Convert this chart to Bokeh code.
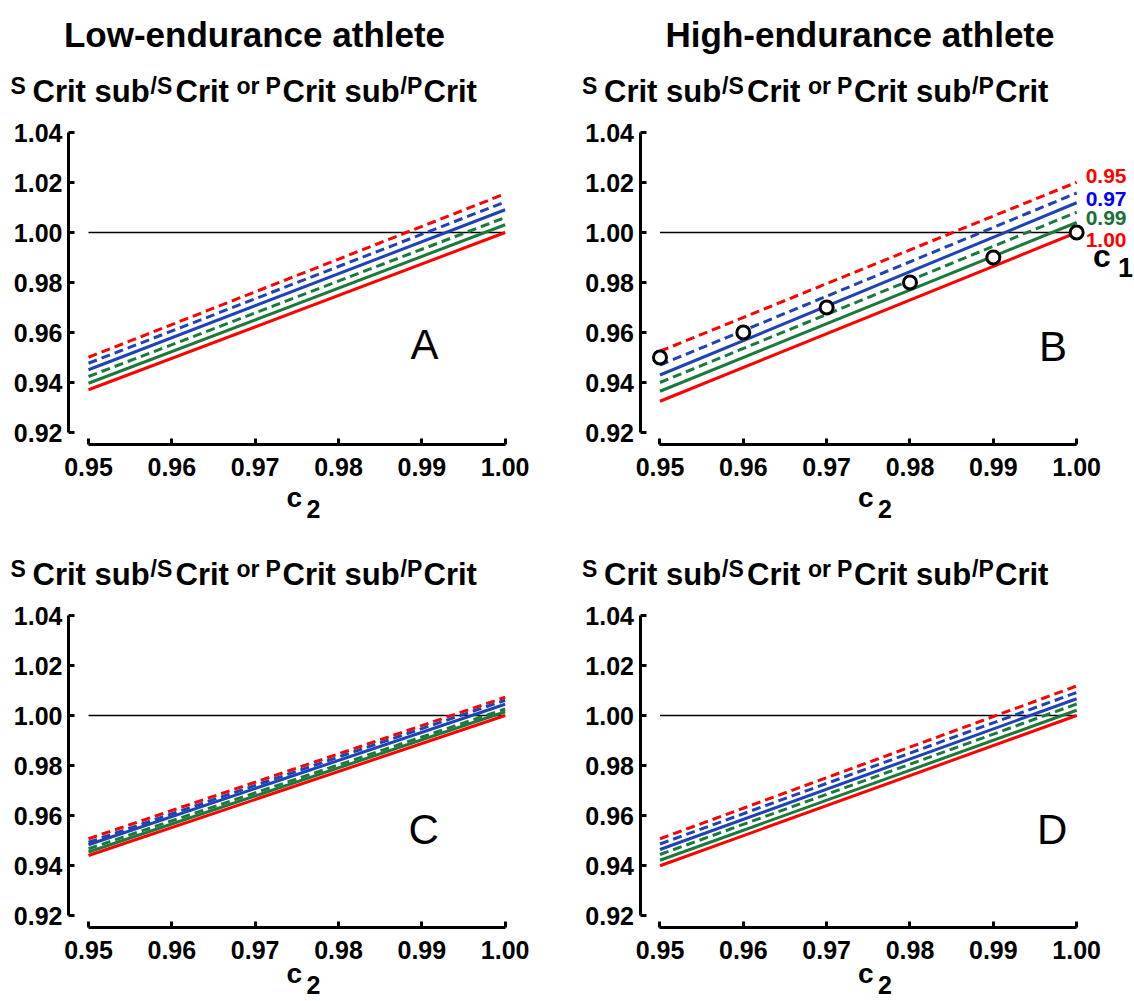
from bokeh.plotting import figure
from bokeh.layouts import gridplot
from bokeh.models import Label, Range1d, FixedTicker, PrintfTickFormatter
from bokeh.embed import file_html
from bokeh.resources import INLINE

# ---------------- data ----------------
c2_span = [0.95, 1.00]                      # c2 at the two ends of every line
c1_levels = [0.95, 0.96, 0.97, 0.98, 0.99, 1.00]
c1_labels = ["0.95", "0.97", "0.99", "1.00"]
x_ticks = [0.95, 0.96, 0.97, 0.98, 0.99, 1.00]
y_ticks = [0.92, 0.94, 0.96, 0.98, 1.00, 1.02, 1.04]
reference_level = [1.00, 1.00]

# ratio at c2 = 0.95 and at c2 = 1.00, one value per c1 level
A_at_095 = [0.9501, 0.9477, 0.9451, 0.9424, 0.9397, 0.9371]
A_at_100 = [1.0155, 1.0122, 1.0091, 1.0060, 1.0031, 1.0000]
B_at_095 = [0.9525, 0.9470, 0.9430, 0.9400, 0.9365, 0.9325]
B_at_100 = [1.0201, 1.0158, 1.0119, 1.0081, 1.0040, 1.0000]
C_at_095 = [0.9507, 0.9493, 0.9483, 0.9467, 0.9454, 0.9440]
C_at_100 = [1.0073, 1.0061, 1.0045, 1.0026, 1.0015, 1.0000]
D_at_095 = [0.9507, 0.9486, 0.9464, 0.9444, 0.9421, 0.9399]
D_at_100 = [1.0118, 1.0092, 1.0067, 1.0046, 1.0021, 1.0000]

B_points_c2 = [0.95, 0.96, 0.97, 0.98, 0.99, 1.00]
B_points_ratio = [0.95, 0.96, 0.97, 0.98, 0.99, 1.00]

# ---------------- styles ----------------
RED = "#ff0000"
BLUE = "#1f43b5"
GREEN = "#1b7a3b"
line_colors = [RED, BLUE, BLUE, GREEN, GREEN, RED]
line_dashes = ["9 5", "9 5", "solid", "9 5", "solid", "solid"]
label_colors = ["#ff0000", "#0000ff", "#1a7035", "#ff0000"]
FONT = "Liberation Sans"

XS = 8333.33   # px per unit of c2
YS = 2500.0    # px per unit of ratio
XA = 0.9476    # c2 value where the y axis stands
YA = 0.9152    # ratio value where the x axis stands
BASE = 0.38    # baseline correction (fraction of font size)


def dx(px):
    return XA + px / XS


def dy(py):
    return YA + py / YS


def lab(p, px, py, text, size, bold=True, color="black", align="left"):
    p.add_layout(Label(x=dx(px), y=dy(py + BASE * size), text=text, text_font=FONT,
                       text_font_style="bold" if bold else "normal",
                       text_font_size=f"{size}px", text_color=color,
                       text_align=align, text_baseline="alphabetic"))


# y title pieces: (text, raised?, left position relative to the y axis, px)
Y_TITLE = [("S", True, -58), ("Crit sub", False, -36), ("/S", True, 82),
           ("Crit", False, 107), ("or", True, 168), ("P", True, 197),
           ("Crit sub", False, 214), ("/P", True, 332), ("Crit", False, 355)]


def make_panel(width, height, ax_x, ax_y, v095, v100, letter, lpx, lpy,
               title=None, title_px=0, points=False, c2_drop=64):
    p = figure(width=width, height=height,
               x_range=Range1d(XA - ax_x / XS, XA + (width - ax_x) / XS),
               y_range=Range1d(YA - (height - ax_y) / YS, YA + ax_y / YS),
               output_backend="svg", toolbar_location=None,
               min_border_left=0, min_border_right=0,
               min_border_top=0, min_border_bottom=0)
    p.xgrid.visible = False
    p.ygrid.visible = False
    p.outline_line_color = None
    p.background_fill_color = "white"
    p.border_fill_color = "white"

    for ax, ticks, b in ((p.xaxis[0], x_ticks, (0.95, 1.00)),
                         (p.yaxis[0], y_ticks, (0.92, 1.04))):
        ax.ticker = FixedTicker(ticks=ticks)
        ax.formatter = PrintfTickFormatter(format="%.2f")
        ax.bounds = b
        ax.axis_line_width = 3
        ax.axis_line_color = "black"
        ax.major_tick_in = 6
        ax.major_tick_out = 0
        ax.major_tick_line_width = 3
        ax.minor_tick_line_color = None
        ax.major_label_text_font = FONT
        ax.major_label_text_font_style = "bold"
        ax.major_label_text_font_size = "25px"
        ax.major_label_text_color = "black"
    p.xaxis.fixed_location = YA
    p.yaxis.fixed_location = XA
    p.xaxis.major_label_standoff = 13
    p.yaxis.major_label_standoff = 6

    p.line(c2_span, reference_level, line_color="black", line_width=1.5)
    for s, e, col, dash in zip(v095, v100, line_colors, line_dashes):
        p.line(c2_span, [s, e], line_color=col, line_dash=dash, line_width=3)

    if points:
        p.scatter(B_points_c2, B_points_ratio, marker="circle", size=13,
                  fill_color="white", line_color="black", line_width=3)

    # y-axis title: S_Crit sub / S_Crit  or  P_Crit sub / P_Crit
    for t, raised, px in Y_TITLE:
        if raised:
            lab(p, px, 350, t, 23)
        else:
            lab(p, px, 341, t, 31)

    # x-axis title c2
    lab(p, 218, -c2_drop, "c", 28)
    lab(p, 238, -c2_drop - 10, "2", 25)

    # panel letter
    lab(p, lpx, lpy, letter, 42, bold=False)

    if title:
        lab(p, title_px, 397, title, 35, align="center")
    return p


pA = make_panel(571, 538, 68, 444, A_at_095, A_at_100, "A", 342, 84,
                title="Low-endurance athlete", title_px=186)
pB = make_panel(563, 538, 68.5, 444, B_at_095, B_at_100, "B", 399, 82,
                title="High-endurance athlete", title_px=220, points=True)
pC = make_panel(571, 462, 68, 389, C_at_095, C_at_100, "C", 340, 82, c2_drop=57)
pD = make_panel(563, 462, 68.5, 389, D_at_095, D_at_100, "D", 397, 82, c2_drop=57)

# c1 labels at the right end of panel B
label_levels = [1.0226, 1.0135, 1.0059, 0.9972]
for t, lvl, col in zip(c1_labels, label_levels, label_colors):
    pB.add_layout(Label(x=1.00, y=lvl, x_offset=9, text=t, text_font=FONT,
                        text_font_style="bold", text_font_size="21px",
                        text_color=col, text_align="left", text_baseline="middle"))
lab(pB, 453, 176, "c", 32)
lab(pB, 478, 167, "1", 27)

grid = gridplot([[pA, pB], [pC, pD]], toolbar_location=None)
open("out.html", "w").write(file_html(grid, INLINE))
